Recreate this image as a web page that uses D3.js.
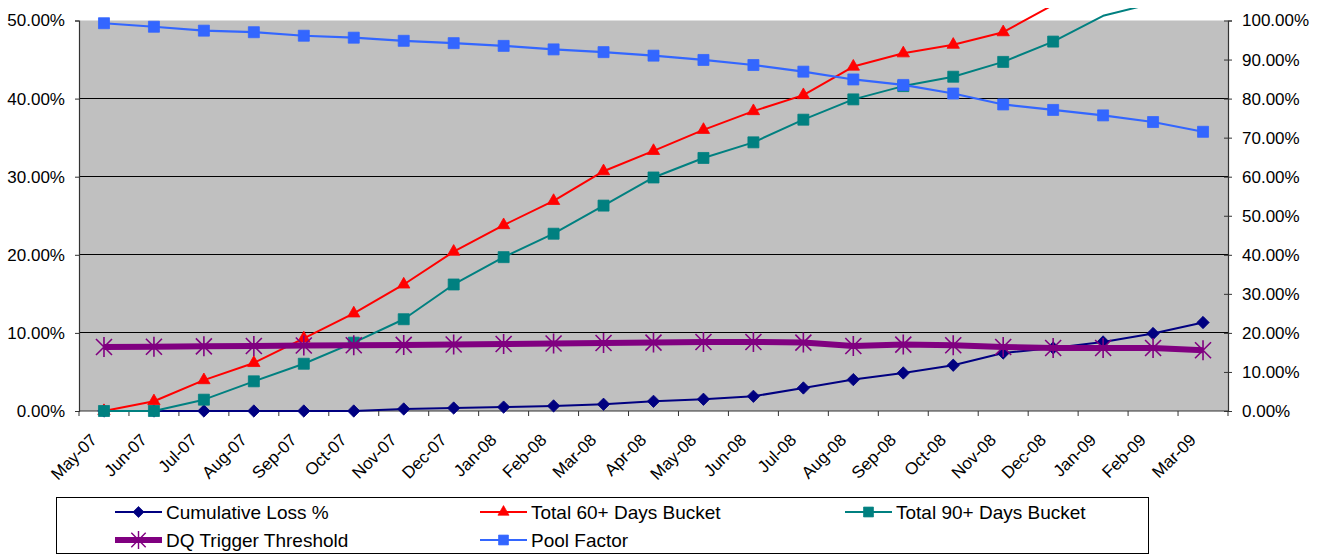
<!DOCTYPE html>
<html>
<head>
<meta charset="utf-8">
<script src="https://cdn.jsdelivr.net/npm/d3@7"></script>
<style>
  html, body { margin: 0; padding: 0; background: #ffffff; }
  svg { display: block; font-family: "Liberation Sans", Arial, sans-serif; }
</style>
</head>
<body>
<svg id="chart" width="1322" height="555"></svg>
<script>
// Monthly pool performance, May 2007 - March 2009 (values in percent)
const months = ["May-07","Jun-07","Jul-07","Aug-07","Sep-07","Oct-07","Nov-07","Dec-07",
  "Jan-08","Feb-08","Mar-08","Apr-08","May-08","Jun-08","Jul-08","Aug-08","Sep-08",
  "Oct-08","Nov-08","Dec-08","Jan-09","Feb-09","Mar-09"];

const cumulativeLoss = [0, 0, 0, 0, 0, 0, 0.26, 0.38, 0.5, 0.65, 0.86, 1.24, 1.5, 1.88,
  2.95, 4.02, 4.87, 5.86, 7.43, 8.07, 8.84, 9.92, 11.33];
const total60 = [0, 1.25, 3.95, 6.15, 9.3, 12.5, 16.2, 20.4, 23.8, 26.9, 30.7, 33.3, 36.0,
  38.4, 40.45, 44.1, 45.8, 46.9, 48.5, 52.0, 55.0, 57.5, 59.5];
const total90 = [0, 0, 1.45, 3.8, 6.05, 8.75, 11.75, 16.2, 19.7, 22.7, 26.3, 29.9, 32.4,
  34.4, 37.3, 39.9, 41.6, 42.8, 44.7, 47.3, 50.6, 52.2, 53.5];
const dqTrigger = [8.2, 8.22, 8.28, 8.33, 8.38, 8.42, 8.46, 8.52, 8.58, 8.64, 8.7, 8.76,
  8.84, 8.84, 8.76, 8.33, 8.5, 8.42, 8.2, 8.07, 8.07, 8.07, 7.78];
const poolFactor = [99.3, 98.4, 97.4, 97.0, 96.1, 95.6, 94.8, 94.2, 93.5, 92.6, 91.9, 91.0,
  89.9, 88.6, 86.9, 84.9, 83.5, 81.3, 78.5, 77.1, 75.7, 74.0, 71.5];

const leftTicks = [0, 10, 20, 30, 40, 50];
const rightTicks = [0, 10, 20, 30, 40, 50, 60, 70, 80, 90, 100];
const gridTicks = [10, 20, 30, 40];

const svg = d3.select("#chart");
const plot = { left: 79, right: 1228, top: 20.5, bottom: 411 };

const x = d3.scaleBand().domain(months).range([plot.left, plot.right]).padding(0);
const cx = d => x(d) + x.bandwidth() / 2;
const yL = d3.scaleLinear().domain([0, 50]).range([plot.bottom, plot.top]);
const yR = d3.scaleLinear().domain([0, 100]).range([plot.bottom, plot.top]);
const fmt = d => d.toFixed(2) + "%";

// plot area
svg.append("rect")
  .attr("x", plot.left).attr("y", plot.top)
  .attr("width", plot.right - plot.left).attr("height", plot.bottom - plot.top)
  .attr("fill", "#c0c0c0");

// horizontal gridlines
svg.append("g").selectAll("line").data(gridTicks).join("line")
  .attr("x1", plot.left).attr("x2", plot.right)
  .attr("y1", d => yL(d)).attr("y2", d => yL(d))
  .attr("stroke", "#000").attr("stroke-width", 1).attr("shape-rendering", "crispEdges");

// left axis
const gL = svg.append("g").attr("transform", `translate(${plot.left},0)`)
  .call(d3.axisLeft(yL).tickValues(leftTicks).tickFormat(fmt).tickSize(4).tickPadding(10));
// right axis (ticks cross the axis line)
const gR = svg.append("g").attr("transform", `translate(${plot.right},0)`)
  .call(d3.axisRight(yR).tickValues(rightTicks).tickFormat(fmt).tickSize(4).tickPadding(10));
gR.selectAll(".tick line").attr("x1", -4);
// bottom axis: labels at band centres, ticks at band boundaries
const gB = svg.append("g").attr("transform", `translate(0,${plot.bottom})`)
  .call(d3.axisBottom(x).tickSize(0));
gB.selectAll(".tick text")
  .attr("x", 0).attr("y", 0).attr("dy", 0)
  .attr("transform", "translate(-6,30) rotate(-45)")
  .style("text-anchor", "end");
gB.append("g").selectAll("line").data(months.map(m => x(m)).concat([plot.right])).join("line")
  .attr("x1", d => d).attr("x2", d => d).attr("y1", 0).attr("y2", 5)
  .attr("stroke", "#333");

[gL, gR, gB].forEach(g => {
  g.selectAll(".domain").attr("stroke", "#333").attr("stroke-width", 1.2);
  g.selectAll(".tick line").attr("stroke", "#333");
  g.selectAll("text").attr("font-size", 17).attr("fill", "#000")
    .attr("font-family", "'Liberation Sans', Arial, sans-serif");
});
gB.select(".domain").attr("d", `M${plot.left},0H${plot.right}`);

// marker shapes
const squarePath = d3.symbol(d3.symbolSquare, 121)();
const diamondPath = d3.symbol(d3.symbolSquare, 76)();
const trianglePath = d3.symbol(d3.symbolTriangle, 66)();
const starPath = "M0,-10V10M-8,-8L8,8M-8,8L8,-8";

const series = [
  { name: "Cumulative Loss %", values: cumulativeLoss, y: yL, color: "#000080", width: 2,
    marker: diamondPath, rotate: 45, fill: true },
  { name: "Total 60+ Days Bucket", values: total60, y: yL, color: "#ff0000", width: 2,
    marker: trianglePath, rotate: 0, fill: true },
  { name: "Total 90+ Days Bucket", values: total90, y: yL, color: "#008080", width: 2,
    marker: squarePath, rotate: 0, fill: true },
  { name: "DQ Trigger Threshold", values: dqTrigger, y: yL, color: "#800080", width: 6,
    marker: starPath, rotate: 0, fill: false },
  { name: "Pool Factor", values: poolFactor, y: yR, color: "#3366ff", width: 2.2,
    marker: squarePath, rotate: 0, fill: true }
];

// lines run past the top of the plot area up to the chart edge
svg.append("clipPath").attr("id", "lineClip").append("rect")
  .attr("x", plot.left).attr("y", 8)
  .attr("width", plot.right - plot.left).attr("height", plot.bottom - 8 + 2);

const marks = svg.append("g");
series.forEach(s => {
  const pts = months.map((m, i) => ({ m, v: s.values[i] }));
  marks.append("path")
    .attr("clip-path", "url(#lineClip)")
    .attr("d", d3.line().x(d => cx(d.m)).y(d => s.y(d.v))(pts))
    .attr("fill", "none").attr("stroke", s.color).attr("stroke-width", s.width)
    .attr("stroke-linejoin", "round");
  marks.append("g").selectAll("path")
    .data(pts.filter(d => s.y(d.v) >= plot.top - 1))
    .join("path")
    .attr("transform", d => `translate(${cx(d.m)},${s.y(d.v)}) rotate(${s.rotate})`)
    .attr("d", s.marker)
    .attr("fill", s.fill ? s.color : "none")
    .attr("stroke", s.color).attr("stroke-width", s.fill ? 0.8 : 1.6);
});

// legend
const legendBox = { x: 56, y: 497, w: 1092, h: 56 };
svg.append("rect")
  .attr("x", legendBox.x + 0.5).attr("y", legendBox.y + 0.5)
  .attr("width", legendBox.w).attr("height", legendBox.h)
  .attr("fill", "#fff").attr("stroke", "#000").attr("stroke-width", 1);

const legendCols = [115, 480, 845];
const legendRows = [512, 540];
const legendOrder = [0, 1, 2, 3, 4];
const lg = svg.append("g");
legendOrder.forEach((si, k) => {
  const s = series[si];
  const lx = legendCols[k % 3];
  const ly = legendRows[Math.floor(k / 3)];
  const item = lg.append("g").attr("transform", `translate(${lx},${ly})`);
  item.append("line").attr("x1", 0).attr("x2", 47).attr("y1", 0).attr("y2", 0)
    .attr("stroke", s.color).attr("stroke-width", s.width);
  item.append("path")
    .attr("transform", `translate(23.5,0) rotate(${s.rotate}) scale(0.9)`)
    .attr("d", s.marker)
    .attr("fill", s.fill ? s.color : "none")
    .attr("stroke", s.color).attr("stroke-width", s.fill ? 0.8 : 1.6);
  item.append("text").attr("x", 51).attr("y", 0).attr("dy", "0.35em")
    .attr("font-size", 19).attr("fill", "#000").text(s.name);
});
</script>
</body>
</html>
